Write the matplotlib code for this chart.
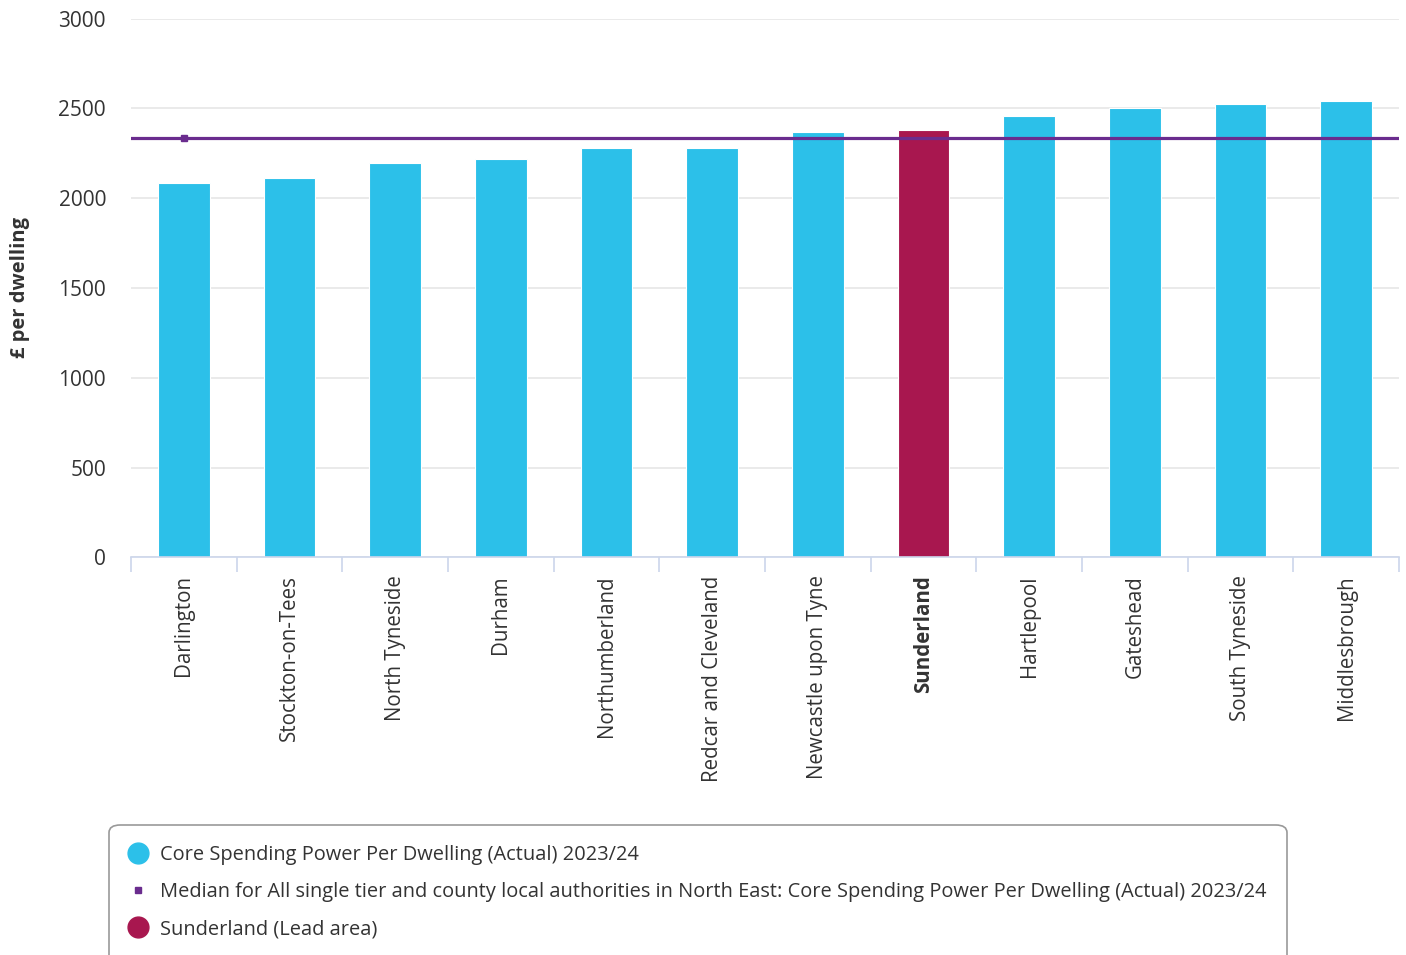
import matplotlib
matplotlib.use("Agg")
import matplotlib.pyplot as plt
from matplotlib.lines import Line2D
from matplotlib.patches import FancyBboxPatch

plt.rcParams['font.family'] = ['Open Sans', 'DejaVu Sans']

# data
areas = ["Darlington", "Stockton-on-Tees", "North Tyneside", "Durham", "Northumberland",
         "Redcar and Cleveland", "Newcastle upon Tyne", "Sunderland", "Hartlepool",
         "Gateshead", "South Tyneside", "Middlesbrough"]
spend = [2083, 2111, 2195, 2217, 2278, 2278, 2371, 2382, 2456, 2503, 2523, 2542]
median_value = 2334
lead_area = "Sunderland"
yticks = [0, 500, 1000, 1500, 2000, 2500, 3000]

cyan = "#2cc0e9"
crimson = "#a8174f"
purple = "#6a2c8e"
txt = "#333333"

fig = plt.figure(figsize=(14.06, 9.55), dpi=100)
ax = fig.add_axes([131/1406, 1-557.3/955, (1399-131)/1406, (557.3-18.7)/955])

x = list(range(len(areas)))
colors = [crimson if a == lead_area else cyan for a in areas]
ax.bar(x, spend, width=0.49, color=colors, edgecolor="white", linewidth=0.8, zorder=2)

# median line + single marker on first category
ax.axhline(median_value, color=purple, linewidth=2.3, zorder=3)
ax.plot([0], [median_value], marker="s", color=purple, markersize=5, zorder=4)

ax.set_xlim(-0.5, len(areas) - 0.5)
ax.set_ylim(0, 3000)
ax.set_yticks(yticks)
ax.grid(axis="y", color="#e6e6e6", linewidth=1.2, zorder=0)
ax.set_axisbelow(True)

for s in ["top", "right", "left"]:
    ax.spines[s].set_visible(False)
ax.spines["bottom"].set_color("#ccd6eb")
ax.spines["bottom"].set_linewidth(1.2)

ax.set_xticks(x)
ax.set_xticklabels(areas, rotation=90, va="top", ha="center")
ax.set_xticks([i - 0.5 for i in range(len(areas) + 1)], minor=True)
ax.tick_params(axis="x", which="major", length=0, pad=13, labelsize=14.8, labelcolor=txt)
ax.tick_params(axis="x", which="minor", length=11, color="#ccd6eb", width=1.2)
ax.tick_params(axis="y", length=0, pad=18, labelsize=15, labelcolor=txt)
for lab in ax.get_xticklabels():
    if lab.get_text() == lead_area:
        lab.set_fontweight("bold")

fig.text(20/1406, 1-287/955, "£ per dwelling", rotation=90, ha="center", va="center",
         fontsize=14.5, fontweight="bold", color=txt)

# legend
box = FancyBboxPatch((109/1406, -0.05), (1287-109)/1406, (825/955*-1 + 1) + 0.05,
                     boxstyle="round,pad=0,rounding_size=0.008", transform=fig.transFigure,
                     facecolor="white", edgecolor="#999999", linewidth=1.2)
fig.patches.append(box)

handles = [
    Line2D([], [], marker="o", linestyle="none", color=cyan, markersize=15),
    Line2D([], [], marker="s", linestyle="none", color=purple, markersize=5),
    Line2D([], [], marker="o", linestyle="none", color=crimson, markersize=15),
]
labels = [
    "Core Spending Power Per Dwelling (Actual) 2023/24",
    "Median for All single tier and county local authorities in North East: Core Spending Power Per Dwelling (Actual) 2023/24",
    "Sunderland (Lead area)",
]
fig.legend(handles, labels, loc="upper left", bbox_to_anchor=(128/1406, 1-845/955),
           frameon=False, fontsize=14.4, labelspacing=0.86, handlelength=1.0,
           handletextpad=0.62, borderaxespad=0, borderpad=0, labelcolor=txt)

fig.savefig("out.png", dpi=100)
